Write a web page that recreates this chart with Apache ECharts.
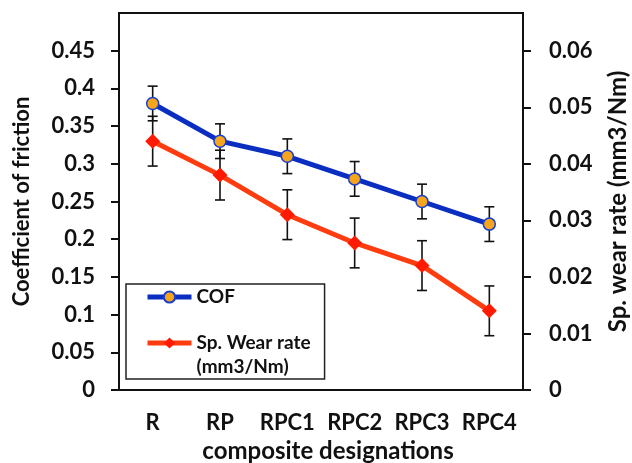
<!DOCTYPE html>
<html>
<head>
<meta charset="utf-8">
<script src="https://cdn.jsdelivr.net/npm/echarts@6/dist/echarts.min.js"></script>
<style>
  html, body { margin: 0; padding: 0; background: #fff; }
  #chart { width: 632px; height: 463px; }
</style>
</head>
<body>
<div id="chart"></div>
<script>
// composite designations
const categories = ['R', 'RP', 'RPC1', 'RPC2', 'RPC3', 'RPC4'];
// coefficient of friction (left axis)
const cof = [0.38, 0.33, 0.31, 0.28, 0.25, 0.22];
const cofErr = [0.023, 0.023, 0.023, 0.023, 0.023, 0.023];
// specific wear rate, mm3/Nm (right axis)
const wear = [0.044, 0.038, 0.031, 0.026, 0.022, 0.014];
const wearErr = [0.0044, 0.0044, 0.0044, 0.0044, 0.0044, 0.0044];

const FONT = 'Lato';
const wearName = 'Sp. Wear rate\n(mm3/Nm)';

const errData = (vals, errs) => vals.map((v, i) => [i, v - errs[i], v + errs[i]]);

const errorBars = (params, api) => {
  const lo = api.coord([api.value(0), api.value(1)]);
  const hi = api.coord([api.value(0), api.value(2)]);
  const w = 5;
  const style = { stroke: '#111', lineWidth: 1.6, fill: null };
  return {
    type: 'group',
    children: [
      { type: 'line', shape: { x1: lo[0], y1: lo[1], x2: hi[0], y2: hi[1] }, style },
      { type: 'line', shape: { x1: lo[0] - w, y1: lo[1], x2: lo[0] + w, y2: lo[1] }, style },
      { type: 'line', shape: { x1: hi[0] - w, y1: hi[1], x2: hi[0] + w, y2: hi[1] }, style },
    ],
  };
};

const labelStyle = { color: '#111', fontFamily: FONT, fontWeight: 'bold', fontSize: 22 };
const nameStyle = { color: '#111', fontFamily: FONT, fontWeight: 'bold', fontSize: 24 };

const options = {
  animation: false,
  grid: {
    left: 119, right: 109, top: 13, bottom: 73,
    outerBoundsMode: 'none',
    show: true, borderColor: '#111', borderWidth: 2,
  },
  legend: {
    orient: 'vertical',
    left: 126, top: 284,
    padding: [1, 14, 0, 19],
    itemGap: -2,
    itemWidth: 44, itemHeight: 14,
    borderColor: '#222', borderWidth: 1.5,
    lineStyle: { width: 5 },
    textStyle: { color: '#111', fontFamily: FONT, fontWeight: 'bold', fontSize: 19, lineHeight: 24 },
    // blank first line keeps the icon level with "Sp. Wear rate"
    formatter: name => (name === wearName ? ' \n' + name : name),
    data: ['COF', wearName],
  },
  xAxis: {
    type: 'category',
    data: categories,
    name: 'composite designations',
    nameLocation: 'middle',
    nameGap: 48,
    nameTextStyle: { ...nameStyle, padding: [0, 0, 0, 14] },
    axisLine: { lineStyle: { color: '#111', width: 2 } },
    axisTick: { alignWithLabel: true, length: 7, lineStyle: { color: '#111', width: 2 } },
    axisLabel: { ...labelStyle, margin: 22, interval: 0 },
  },
  yAxis: [
    {
      type: 'value',
      min: 0, max: 0.5, interval: 0.05,
      name: 'Coefficient of friction',
      nameLocation: 'middle',
      nameGap: 86,
      nameTextStyle: { ...nameStyle, fontSize: 22 },
      axisLine: { show: true, lineStyle: { color: '#111', width: 2 } },
      axisTick: { show: true, length: 8, lineStyle: { color: '#111', width: 2 } },
      axisLabel: { ...labelStyle, margin: 24, showMaxLabel: false },
      splitLine: { show: false },
    },
    {
      type: 'value',
      min: 0, max: 0.5 / 7.5, interval: 0.01,
      name: 'Sp. wear rate (mm3/Nm)',
      nameLocation: 'middle',
      nameGap: 83,
      nameTextStyle: nameStyle,
      axisLine: { show: true, lineStyle: { color: '#111', width: 2 } },
      axisTick: { show: true, length: 8, lineStyle: { color: '#111', width: 2 } },
      axisLabel: { ...labelStyle, margin: 26, showMaxLabel: false },
      splitLine: { show: false },
    },
  ],
  series: [
    {
      type: 'custom',
      yAxisIndex: 0,
      z: 1,
      renderItem: errorBars,
      data: errData(cof, cofErr),
      silent: true,
    },
    {
      type: 'custom',
      yAxisIndex: 1,
      z: 1,
      renderItem: errorBars,
      data: errData(wear, wearErr),
      silent: true,
    },
    {
      name: 'COF',
      type: 'line',
      yAxisIndex: 0,
      z: 3,
      data: cof,
      symbol: 'circle',
      symbolSize: 12,
      lineStyle: { color: '#0a2fc0', width: 5 },
      itemStyle: { color: '#f7a51c', borderColor: '#1a3fd0', borderWidth: 1.5 },
    },
    {
      name: wearName,
      type: 'line',
      yAxisIndex: 1,
      z: 2,
      data: wear,
      symbol: 'diamond',
      symbolSize: 15,
      lineStyle: { color: '#ff3c10', width: 5 },
      itemStyle: { color: '#ff1a00' },
    },
  ],
};

const chart = echarts.init(document.getElementById('chart'));
chart.setOption(options);
</script>
</body>
</html>
